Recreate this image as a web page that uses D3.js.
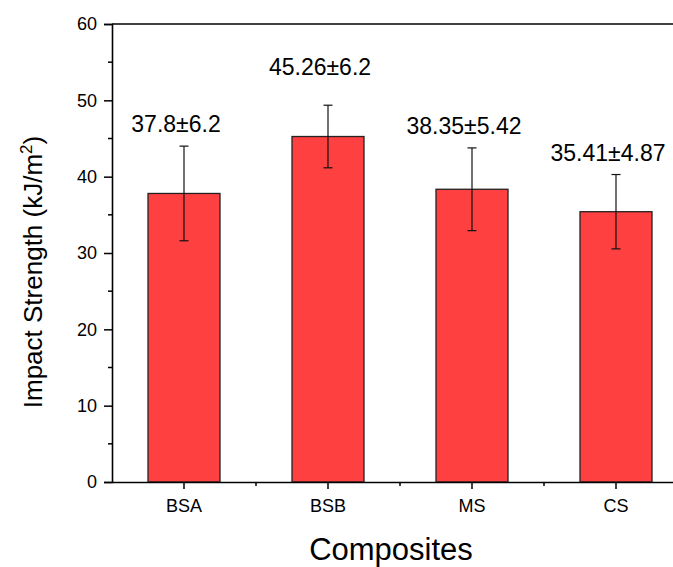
<!DOCTYPE html>
<html>
<head>
<meta charset="utf-8">
<script src="https://cdn.jsdelivr.net/npm/d3@7"></script>
<style>
  body { margin: 0; background: #fff; }
  text { font-family: Arial, "Liberation Sans", sans-serif; fill: #000; }
</style>
</head>
<body>
<div class="canvas"></div>
<script>
const categories = ["BSA", "BSB", "MS", "CS"];
const means = [37.8, 45.26, 38.35, 35.41];
const errors = [6.2, 4.1, 5.42, 4.87];
const labelSd = [6.2, 6.2, 5.42, 4.87];
const labels = ["37.8±6.2", "45.26±6.2", "38.35±5.42", "35.41±4.87"];
const yTicks = [0, 10, 20, 30, 40, 50, 60];
const yMinor = [5, 15, 25, 35, 45, 55];

const dims = { width: 673, height: 567 };
const plot = { left: 112, right: 688, top: 24, bottom: 482 };

const svg = d3
  .select(".canvas")
  .append("svg")
  .attr("width", dims.width)
  .attr("height", dims.height);

const x = d3
  .scaleBand()
  .domain(categories)
  .range([plot.left, plot.right])
  .paddingInner(0.5)
  .paddingOuter(0.25);

const y = d3.scaleLinear().domain([0, 60]).range([plot.bottom, plot.top]);

// bars
svg
  .append("g")
  .selectAll("rect")
  .data(categories)
  .enter()
  .append("rect")
  .attr("x", (d) => x(d))
  .attr("y", (d, i) => y(means[i]))
  .attr("width", x.bandwidth())
  .attr("height", (d, i) => y(0) - y(means[i]))
  .attr("fill", "#ff4040")
  .attr("stroke", "#222")
  .attr("stroke-width", 1.3);

// error bars
const cx = (d) => x(d) + x.bandwidth() / 2;
const err = svg.append("g").attr("stroke", "#111").attr("stroke-width", 1.2);
categories.forEach((d, i) => {
  const top = y(means[i] + errors[i]);
  const bot = y(means[i] - errors[i]);
  err.append("line").attr("x1", cx(d)).attr("x2", cx(d)).attr("y1", top).attr("y2", bot);
  [top, bot].forEach((v) =>
    err.append("line").attr("x1", cx(d) - 4.5).attr("x2", cx(d) + 4.5).attr("y1", v).attr("y2", v)
  );
});

// value labels
svg
  .append("g")
  .selectAll("text")
  .data(categories)
  .enter()
  .append("text")
  .attr("x", (d) => cx(d) - 8)
  .attr("y", (d, i) => y(means[i] + labelSd[i]) - 14)
  .attr("text-anchor", "middle")
  .style("font-size", "23px")
  .text((d, i) => labels[i]);

// axes
const yAxis = d3.axisLeft(y).tickValues(yTicks).tickSize(8).tickPadding(7);
const gy = svg
  .append("g")
  .attr("transform", `translate(${plot.left},0)`)
  .call(yAxis);
gy.select(".domain").attr("stroke-width", 1.6);
gy.selectAll(".tick line").attr("stroke-width", 1.5);
gy.selectAll("text").style("font-size", "18px");

const gyMinor = svg.append("g").attr("transform", `translate(${plot.left},0)`);
gyMinor
  .selectAll("line")
  .data(yMinor)
  .enter()
  .append("line")
  .attr("x1", -4)
  .attr("x2", 0)
  .attr("y1", (d) => y(d))
  .attr("y2", (d) => y(d))
  .attr("stroke", "#000")
  .attr("stroke-width", 1.5);

const xAxis = d3.axisBottom(x).tickSize(7).tickPadding(10).tickSizeOuter(0);
const gx = svg
  .append("g")
  .attr("transform", `translate(0,${plot.bottom})`)
  .call(xAxis);
gx.select(".domain").attr("stroke-width", 1.6);
gx.selectAll(".tick line").attr("stroke-width", 1.5);
gx.selectAll("text").style("font-size", "18px");

// minor x ticks between categories
svg
  .append("g")
  .selectAll("line")
  .data(categories.slice(1))
  .enter()
  .append("line")
  .attr("x1", (d) => x(d) - x.step() * 0.25)
  .attr("x2", (d) => x(d) - x.step() * 0.25)
  .attr("y1", plot.bottom)
  .attr("y2", plot.bottom + 4)
  .attr("stroke", "#000")
  .attr("stroke-width", 1.5);

// top frame
svg
  .append("line")
  .attr("x1", plot.left)
  .attr("x2", plot.right)
  .attr("y1", plot.top)
  .attr("y2", plot.top)
  .attr("stroke", "#000")
  .attr("stroke-width", 1.6);

// axis titles
svg
  .append("text")
  .attr("x", 391)
  .attr("y", 560)
  .attr("text-anchor", "middle")
  .style("font-size", "31px")
  .text("Composites");

const yTitle = svg
  .append("text")
  .attr("transform", "translate(42,272) rotate(-90)")
  .attr("text-anchor", "middle")
  .style("font-size", "26px");
yTitle.append("tspan").text("Impact Strength (kJ/m");
yTitle.append("tspan").attr("dy", -10).style("font-size", "17px").text("2");
yTitle.append("tspan").attr("dy", 10).text(")");
</script>
</body>
</html>
